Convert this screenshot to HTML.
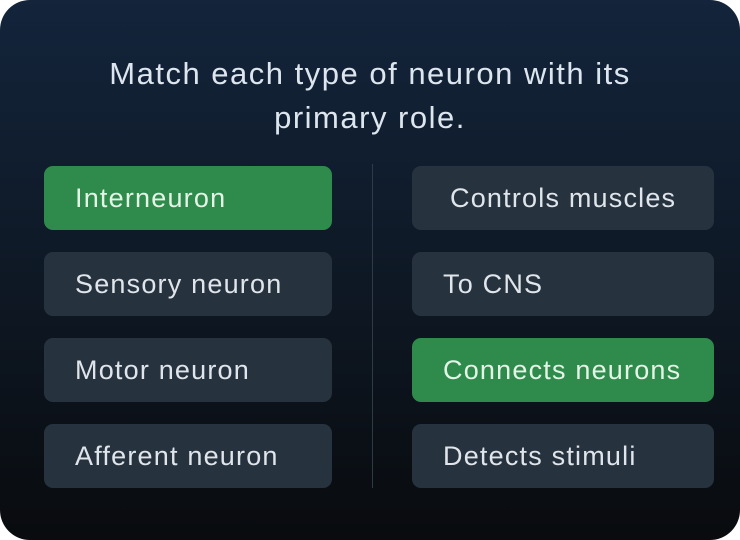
<!DOCTYPE html>
<html><head><style>
html,body{margin:0;padding:0;background:#fff;}
.card{position:absolute;left:0;top:0;width:740px;height:540px;border-radius:30px;background:linear-gradient(180deg,#13243b 0%,#0f1a28 45%,#090b0e 100%);overflow:hidden;font-family:"Liberation Sans",sans-serif;}
.title{position:absolute;left:0;width:740px;top:52px;text-align:center;color:#dde6ee;font-size:31px;line-height:44px;letter-spacing:1.5px;}
.b{position:absolute;height:64px;border-radius:9px;background:#27323f;color:#dfe5eb;font-size:27px;line-height:64px;box-sizing:border-box;padding-left:31px;white-space:nowrap;letter-spacing:1.2px;}
.g{background:#2e8b4c;color:#e4f3e6;}
.l{left:44px;width:288px;}
.r{left:412px;width:302px;}
.div{position:absolute;left:372px;top:164px;width:1px;height:324px;background:#2f3a47;}
</style></head><body>
<div class="card">
<div class="title">Match each type of neuron with its<br>primary role.</div>
<div class="b l g" style="top:166px">Interneuron</div>
<div class="b l" style="top:252px">Sensory neuron</div>
<div class="b l" style="top:338px">Motor neuron</div>
<div class="b l" style="top:424px">Afferent neuron</div>
<div class="div"></div>
<div class="b r" style="top:166px;padding-left:38px">Controls muscles</div>
<div class="b r" style="top:252px">To CNS</div>
<div class="b r g" style="top:338px">Connects neurons</div>
<div class="b r" style="top:424px">Detects stimuli</div>
</div>
</body></html>
